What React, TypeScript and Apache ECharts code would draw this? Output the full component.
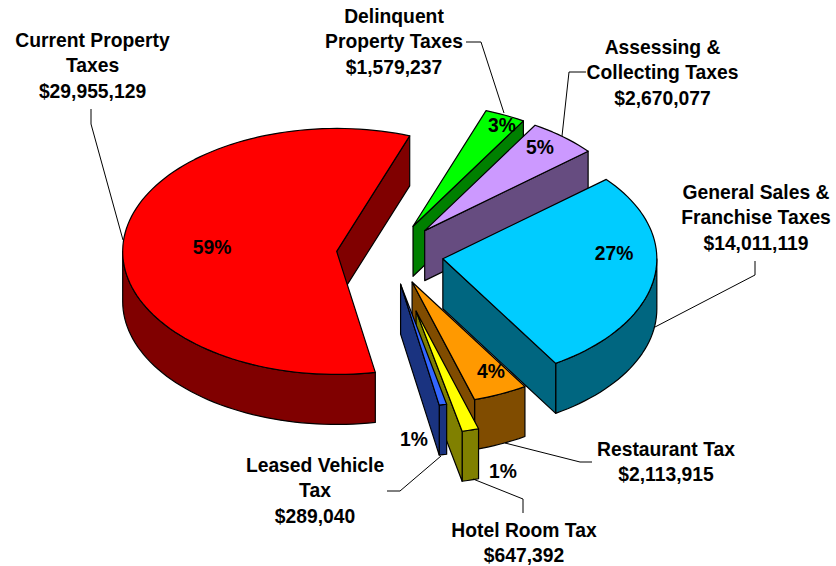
import React, { useEffect, useRef } from "react";
import * as echarts from "echarts";

const categories = ["Current Property Taxes", "Delinquent Property Taxes", "Assessing & Collecting Taxes", "General Sales & Franchise Taxes", "Restaurant Tax", "Hotel Room Tax", "Leased Vehicle Tax"];
const values = [29955129, 1579237, 2670077, 14011119, 2113915, 647392, 289040];
const percentLabels = ["59%", "3%", "5%", "27%", "4%", "1%", "1%"];
const explodeRatio = [0.25, 0.25, 0.25, 0.25, 0.25, 0.48, 0.25];
const labelLines = [
  ["Current Property", "Taxes"],
  ["Delinquent", "Property Taxes"],
  ["Assessing &", "Collecting Taxes"],
  ["General Sales &", "Franchise Taxes"],
  ["Restaurant Tax"],
  ["Hotel Room Tax"],
  ["Leased Vehicle", "Tax"],
];
const topColors = ["#FF0000", "#00FF00", "#CC99FF", "#00CCFF", "#FF9900", "#FFFF00", "#3366FF"];
const sideColors = ["#800000", "#008000", "#664C80", "#006680", "#804C00", "#808000", "#1A3380"];

// layout of the 3D projection
const CX = 390, CY = 254, RX = 214, RY = 123, DEPTH = 50, START_DEG = 169.6;
// layout of texts: [centre x, first line y]
const labelPos = [[92.5, 40], [394, 16], [662.5, 47], [756, 192], [666, 449], [524, 530], [315, 465]];
const percentPos = [[212, 247], [502, 125], [540, 147], [614, 253], [491, 371], [503, 471], [414, 439]];
const leaders = [
  [[91, 109], [91, 124], [123, 240]],
  [[466, 42], [481, 42], [504, 113]],
  [[586, 72], [569, 72], [562, 136]],
  [[755, 261], [755, 275], [655, 327]],
  [[592, 462], [580, 462], [505, 443]],
  [[523, 513], [523, 499], [473, 479]],
  [[387, 491], [400, 491], [441, 456]],
];
const FONT = "bold 19.3px 'Liberation Sans', Arial, sans-serif";
const LINE = 25.7;

const total = values.reduce((a, b) => a + b, 0);
const rad = (d: number) => (d * Math.PI) / 180;

function arcPoints(ax: number, ay: number, a0: number, a1: number, dy = 0) {
  const n = Math.max(2, Math.ceil((a1 - a0) / 2));
  const pts: number[][] = [];
  for (let k = 0; k <= n; k++) {
    const a = rad(a0 + ((a1 - a0) * k) / n);
    pts.push([ax + RX * Math.sin(a), ay - RY * Math.cos(a) + dy]);
  }
  return pts;
}

function renderSlice(params: any, api: any) {
  const i = params.dataIndex;
  const before = values.slice(0, i).reduce((a, b) => a + b, 0);
  let a0 = START_DEG + (before / total) * 360;
  if (a0 >= 360) a0 -= 360;
  const a1 = a0 + (api.value(0) / total) * 360;
  const mid = rad((a0 + a1) / 2);
  const ax = CX + explodeRatio[i] * RX * Math.sin(mid);
  const ay = CY - explodeRatio[i] * RY * Math.cos(mid);
  const stroke = { stroke: "#000", lineWidth: 1.2, lineJoin: "round" };
  const children: any[] = [];
  // outer rim wall: only the part of the arc that faces the viewer
  const f0 = Math.max(a0, 90);
  const f1 = Math.min(a1, 270);
  if (f1 > f0) {
    const top = arcPoints(ax, ay, f0, f1);
    const bottom = arcPoints(ax, ay, f0, f1, DEPTH).reverse();
    children.push({
      type: "polygon",
      shape: { points: top.concat(bottom) },
      style: { fill: sideColors[i], ...stroke },
    });
  }
  // cut wall at the clockwise end of the slice
  const ex = ax + RX * Math.sin(rad(a1));
  const ey = ay - RY * Math.cos(rad(a1));
  children.push({
    type: "polygon",
    shape: { points: [[ax, ay], [ex, ey], [ex, ey + DEPTH], [ax, ay + DEPTH]] },
    style: { fill: sideColors[i], ...stroke },
  });
  // top face
  children.push({
    type: "polygon",
    shape: { points: [[ax, ay], ...arcPoints(ax, ay, a0, a1)] },
    style: { fill: topColors[i], ...stroke },
  });
  return { type: "group", children };
}

function money(v: number) {
  return "$" + v.toLocaleString("en-US");
}

export default function App() {
  const ref = useRef<HTMLDivElement>(null);
  useEffect(() => {
    const chart = echarts.init(ref.current!, null, { renderer: "svg" });
    const texts: any[] = [];
    labelLines.forEach((lines, i) => {
      [...lines, money(values[i])].forEach((t, k) => {
        texts.push({
          type: "text",
          z: 100,
          x: labelPos[i][0],
          y: labelPos[i][1] + k * LINE,
          style: { text: t, font: FONT, fill: "#000", align: "center", verticalAlign: "middle" },
        });
      });
      texts.push({
        type: "text",
        z: 100,
        x: percentPos[i][0],
        y: percentPos[i][1],
        style: { text: percentLabels[i], font: FONT, fill: "#000", align: "center", verticalAlign: "middle" },
      });
      texts.push({
        type: "polyline",
        z: 100,
        shape: { points: leaders[i] },
        style: { stroke: "#000", lineWidth: 1, fill: "none" },
      });
    });
    chart.setOption({
      animation: false,
      backgroundColor: "#fff",
      series: [
        {
          type: "custom",
          name: "Taxes",
          coordinateSystem: "none",
          renderItem: renderSlice,
          clip: false,
          silent: true,
          z: 2,
          data: values.map((v, i) => ({ name: categories[i], value: [v] })),
        },
      ],
      graphic: { elements: texts },
    });
    return () => chart.dispose();
  }, []);
  return <div ref={ref} style={{ position: "absolute", left: 0, top: 0, width: 836, height: 566 }} />;
}
